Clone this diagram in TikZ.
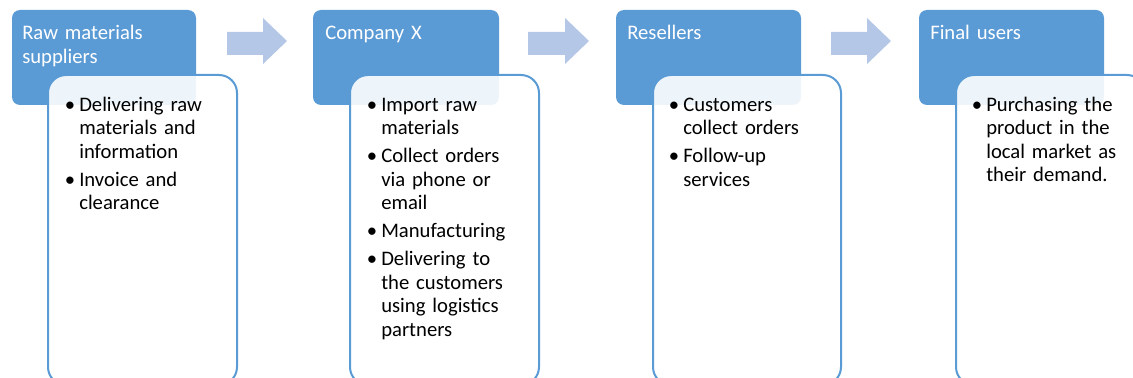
\documentclass[tikz,border=0pt]{standalone}
\usepackage{fontspec}
\setmainfont{Carlito}
\definecolor{hdrblue}{HTML}{5B9BD5}
\definecolor{arrblue}{HTML}{B4C7E7}
\newcommand{\bitem}{\par\noindent\llap{\textbullet\hspace{3pt}}\strut}
\tikzset{
  hdrbox/.style={fill=hdrblue, rounded corners=6pt},
  listbox/.style={draw=hdrblue, line width=1.5pt, fill=white, fill opacity=0.9, rounded corners=13.5pt},
  hdrtext/.style={anchor=north west, inner sep=0pt, text=white, align=left, text width=150pt,
    font=\fontsize{15.5pt}{17.6pt}\selectfont},
  listtext/.style={anchor=north west, inner sep=0pt, text=black, align=left, text width=150pt,
    font=\fontsize{15.5pt}{17.6pt}\selectfont},
  flowarrow/.style={fill=arrblue, draw=none}
}
\newcommand{\lst}[1]{\leftskip=6.75pt\parskip=3.4pt #1\par}
\begin{document}
\begin{tikzpicture}[x=0.75pt,y=-0.75pt]
\useasboundingbox (0,0) rectangle (1133,378);
\clip (0,0) rectangle (1133,378);
% stage 1
\fill[hdrbox] (12,10) rectangle (196,105);
\filldraw[listbox] (48,75) rectangle (237,385);
\node[hdrtext] (h1) at (22,23) {\strut Raw materials\\suppliers};
\node[listtext] (t1) at (70,83) {\lst{\bitem Delivering raw\\materials and\\information\bitem Invoice and\\clearance}};
% stage 2
\fill[hdrbox] (313,10) rectangle (499,105);
\filldraw[listbox] (350,75) rectangle (539,385);
\node[hdrtext] (h2) at (325,23) {\strut Company X};
\node[listtext] (t2) at (372,83) {\lst{\bitem Import raw\\materials\bitem Collect orders\\via phone or\\email\bitem Manufacturing\bitem Delivering to\\the customers\\using logistics\\partners}};
% stage 3
\fill[hdrbox] (616,10) rectangle (801,105);
\filldraw[listbox] (653,75) rectangle (841,385);
\node[hdrtext] (h3) at (627,23) {\strut Resellers};
\node[listtext] (t3) at (674,83) {\lst{\bitem Customers\\collect orders\bitem Follow-up\\services}};
% stage 4
\fill[hdrbox] (919,10) rectangle (1104,105);
\filldraw[listbox] (956,75) rectangle (1145,385);
\node[hdrtext] (h4) at (930,23) {\strut Final users};
\node[listtext] (t4) at (977,83) {\lst{\bitem Purchasing the\\product in the\\local market as\\their demand.}};
% arrows
\fill[flowarrow] (227,32) -- (263,32) -- (263,18) -- (287,41) -- (263,64) -- (263,55) -- (227,55) -- cycle;
\fill[flowarrow] (528,32) -- (565,32) -- (565,18) -- (589,41) -- (565,64) -- (565,55) -- (528,55) -- cycle;
\fill[flowarrow] (831,32) -- (867,32) -- (867,18) -- (891,41) -- (867,64) -- (867,55) -- (831,55) -- cycle;
\end{tikzpicture}
\end{document}
